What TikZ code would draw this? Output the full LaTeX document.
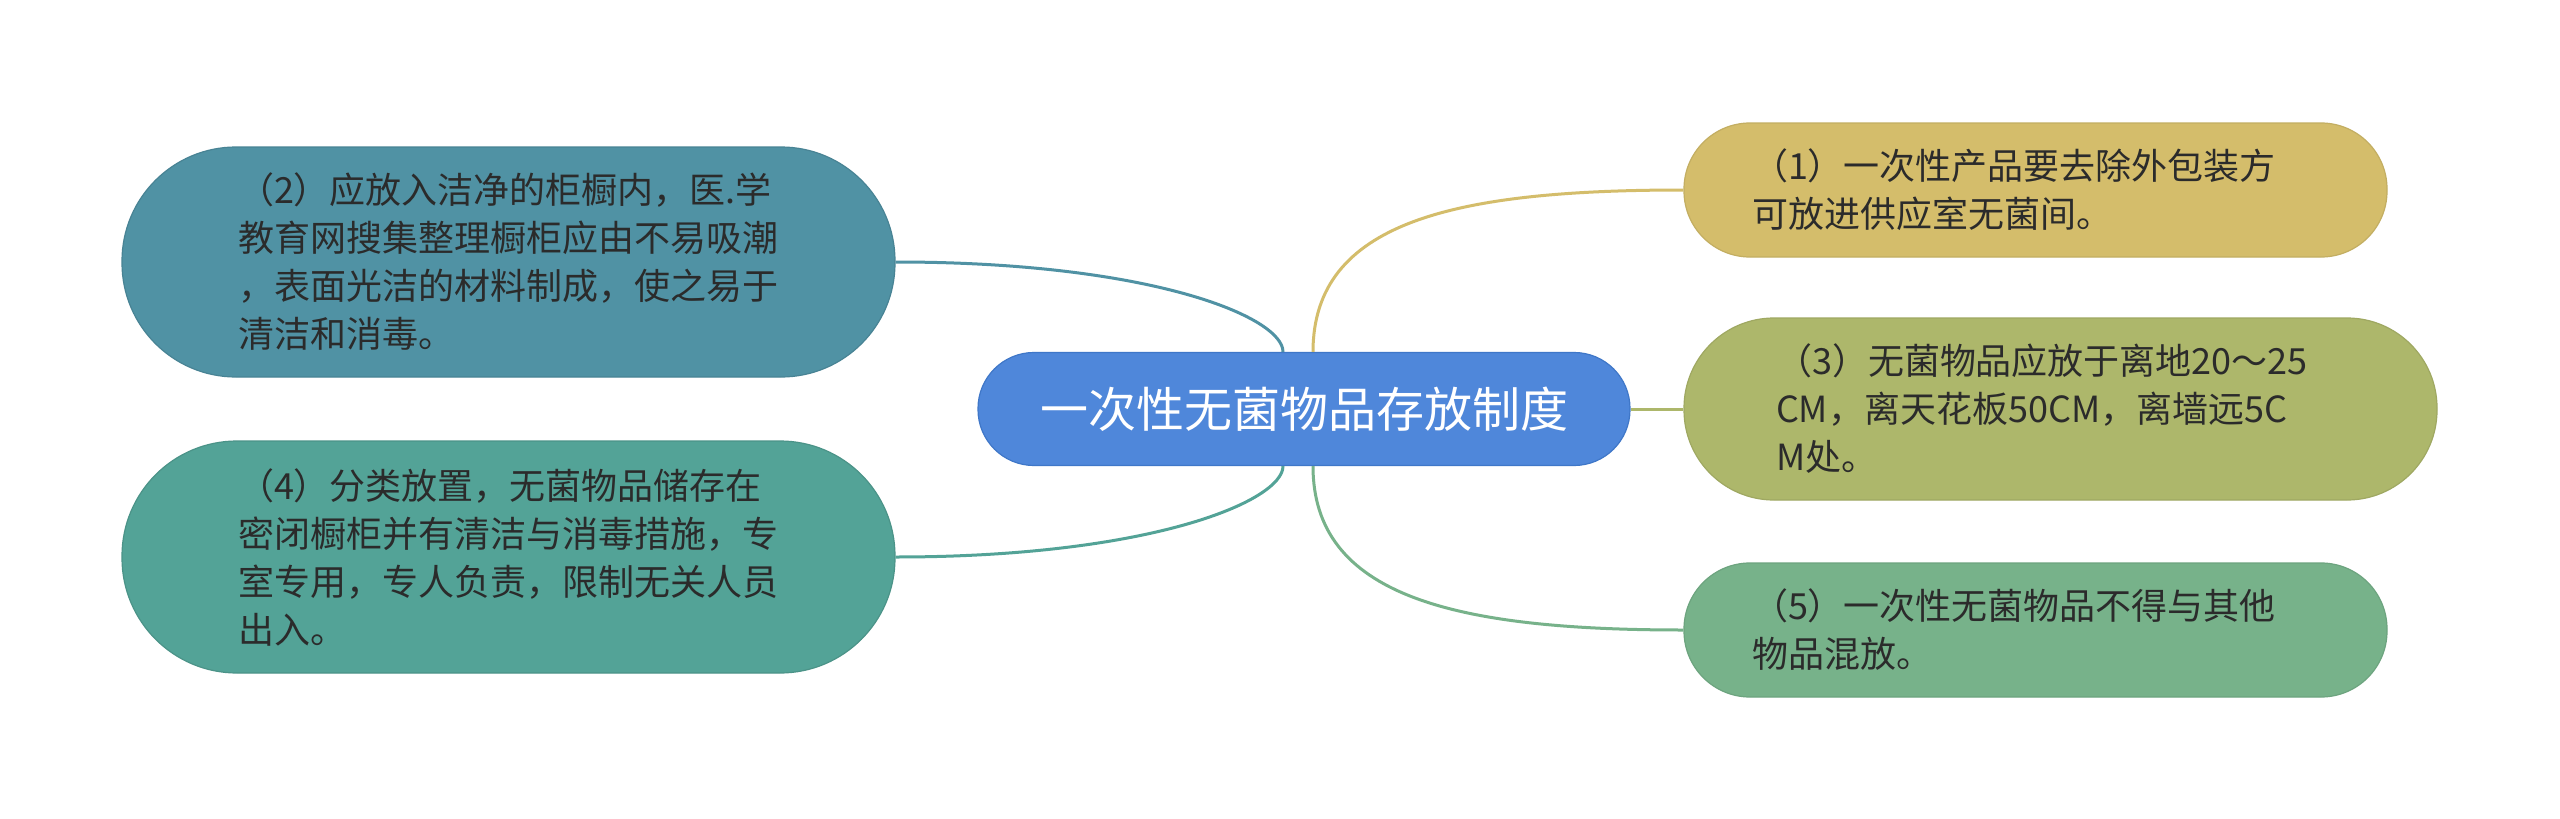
\documentclass[tikz,border=0pt]{standalone}
\usepackage{fontspec}
\setmainfont{Noto Sans CJK SC}
\definecolor{cmain}{HTML}{4F87DA}
\definecolor{cmaind}{HTML}{3F77C8}
\definecolor{ctwo}{HTML}{5092A4}
\definecolor{cfour}{HTML}{53A397}
\definecolor{cone}{HTML}{D4BD6B}
\definecolor{cthree}{HTML}{ADB76B}
\definecolor{cfive}{HTML}{77B28A}
\definecolor{ctext}{HTML}{2B2B2B}
\begin{document}
\begin{tikzpicture}[x=1pt,y=-1pt,
  leafbox/.style={inner sep=0pt, align=left, text=ctext,
    font=\fontsize{36}{48}\selectfont, line width=1.2pt},
  conn/.style={line width=3pt}]
\useasboundingbox (0,0) rectangle (2560,819);
\fill[white] (0,0) rectangle (2560,819);
% central
\node[fill=cmain, draw=cmaind, line width=1.2pt, rounded corners=56pt,
  minimum width=652pt, minimum height=113pt, inner sep=0pt, text=white,
  font=\fontsize{48}{56}\selectfont] (c) at (1304,409) {一次性无菌物品存放制度};
% left
\node[leafbox, fill=ctwo, draw=ctwo!90!black, rounded corners=114pt,
  minimum width=773pt, minimum height=230pt, text width=541pt] (n2) at (508.5,262)
  {（2）应放入洁净的柜橱内，医.学\\教育网搜集整理橱柜应由不易吸潮\\，表面光洁的材料制成，使之易于\\清洁和消毒。};
\node[leafbox, fill=cfour, draw=cfour!90!black, rounded corners=115pt,
  minimum width=773pt, minimum height=232pt, text width=541pt] (n4) at (508.5,557)
  {（4）分类放置，无菌物品储存在\\密闭橱柜并有清洁与消毒措施，专\\室专用，专人负责，限制无关人员\\出入。};
% right
\node[leafbox, fill=cone, draw=cone!92!black, rounded corners=66pt,
  minimum width=703pt, minimum height=134pt, text width=567pt] (n1) at (2035.5,190)
  {（1）一次性产品要去除外包装方\\可放进供应室无菌间。};
\node[leafbox, fill=cthree, draw=cthree!92!black, rounded corners=90pt,
  minimum width=753pt, minimum height=182pt, text width=569pt] (n3) at (2060.5,409)
  {（3）无菌物品应放于离地20～25\\CM，离天花板50CM，离墙远5C\\M处。};
\node[leafbox, fill=cfive, draw=cfive!92!black, rounded corners=66pt,
  minimum width=703pt, minimum height=134pt, text width=567pt] (n5) at (2035.5,630)
  {（5）一次性无菌物品不得与其他\\物品混放。};
% connectors
\draw[conn, draw=ctwo] (n2.east) .. controls +(255,0) and +(0,-35) .. ([xshift=-21pt]c.north);
\draw[conn, draw=cfour] (n4.east) .. controls +(255,0) and +(0,35) .. ([xshift=-21pt]c.south);
\draw[conn, draw=cone] ([xshift=9pt]c.north) .. controls +(0,-130) and +(-230,0) .. (n1.west);
\draw[conn, draw=cthree] (c.east) -- (n3.west);
\draw[conn, draw=cfive] ([xshift=9pt]c.south) .. controls +(0,130) and +(-230,0) .. (n5.west);
\end{tikzpicture}
\end{document}
